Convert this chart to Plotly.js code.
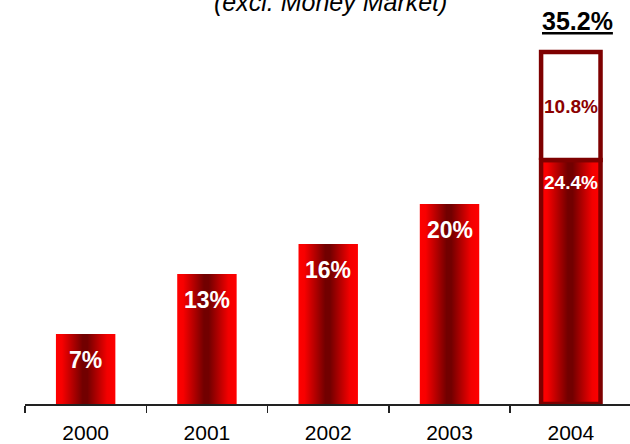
<!DOCTYPE html>
<html>
<head>
<meta charset="utf-8">
<script src="https://cdn.plot.ly/plotly-3.0.1.min.js"></script>
<style>html,body{margin:0;padding:0;background:#fff;}#chart{width:630px;height:444px;}</style>
</head>
<body>
<div id="chart"></div>
<script>
// Data
const years = ["2000", "2001", "2002", "2003", "2004"];
const baseValues = [7, 13, 16, 20, 24.4];
const baseLabels = ["7%", "13%", "16%", "20%", "24.4%"];
const extraValues = [null, null, null, null, 10.8];
const extraLabels = ["", "", "", "", "10.8%"];
const totalLabel = "35.2%";
const titleText = "(excl. Money Market)";

// Styles
const halfW = 0.245;
const gradScale = [[0, '#ff0000'], [0.1, '#f80000'], [0.45, '#720000'], [0.53, '#720000'], [0.86, '#f20000'], [1, '#ff0000']];
const borderColor = '#7e0000';
const FONT = 'Arial, Liberation Sans, sans-serif';

const traces = [];
const annotations = [];
years.forEach((yr, i) => {
  const v = baseValues[i];
  const hasExtra = extraValues[i] != null;
  const x0 = i - halfW, x1 = i + halfW;
  traces.push({
    type: 'scatter', mode: 'lines', fill: 'toself',
    x: [x0, x0, x1, x1, x0], y: [0, v, v, 0, 0],
    fillgradient: {type: 'horizontal', colorscale: gradScale, start: x0, stop: x1},
    line: hasExtra ? {color: borderColor, width: 4.5} : {width: 0, color: 'rgba(0,0,0,0)'},
    hoverinfo: 'skip', showlegend: false
  });
  annotations.push({
    x: i, y: v, xref: 'x', yref: 'y', text: '<b>' + baseLabels[i] + '</b>',
    showarrow: false, yanchor: 'middle', yshift: hasExtra ? -22 : -26,
    font: {family: FONT, size: hasExtra ? 19 : 23, color: '#ffffff'}
  });
  if (hasExtra) {
    const top = v + extraValues[i];
    traces.push({
      type: 'scatter', mode: 'lines', fill: 'toself', fillcolor: '#ffffff',
      x: [x0, x0, x1, x1, x0], y: [v, top, top, v, v],
      line: {color: borderColor, width: 4.5},
      hoverinfo: 'skip', showlegend: false
    });
    annotations.push({
      x: i, y: v + extraValues[i] / 2, xref: 'x', yref: 'y', text: '<b>' + extraLabels[i] + '</b>',
      showarrow: false, yanchor: 'middle',
      font: {family: FONT, size: 19, color: '#8b0000'}
    });
    annotations.push({
      x: i, y: top, xref: 'x', yref: 'y', text: '<b><u>' + totalLabel + '</u></b>',
      showarrow: false, yanchor: 'middle', yshift: 31, xshift: 7,
      font: {family: FONT, size: 25, color: '#000000'}
    });
  }
});

annotations.push({
  xref: 'paper', yref: 'paper', x: 0.505, y: 1.005, xanchor: 'center', yanchor: 'bottom',
  text: '<i>' + titleText + '</i>', showarrow: false,
  font: {family: FONT, size: 25, color: '#000000'}
});

const layout = {
  width: 630, height: 444,
  margin: {l: 25, r: 0, t: 20, b: 40},
  paper_bgcolor: '#ffffff', plot_bgcolor: '#ffffff',
  showlegend: false,
  xaxis: {
    range: [-0.5, 4.488], tickmode: 'array', tickvals: years.map((_, i) => i), ticktext: years,
    ticks: '', ticklabelstandoff: 9, showgrid: false, zeroline: false, showline: true, linecolor: '#222222', linewidth: 1.5,
    tickfont: {family: FONT, size: 21, color: '#000000'},
    minor: {tickmode: 'array', tickvals: years.map((_, i) => i - 0.5), ticks: 'outside', ticklen: 7, tickcolor: '#222222', tickwidth: 1.5, showgrid: false},
    fixedrange: true
  },
  yaxis: {range: [0, 38.4], visible: false, showgrid: false, zeroline: false, fixedrange: true},
  annotations: annotations
};

Plotly.newPlot('chart', traces, layout, {displayModeBar: false, staticPlot: true});
</script>
</body>
</html>
